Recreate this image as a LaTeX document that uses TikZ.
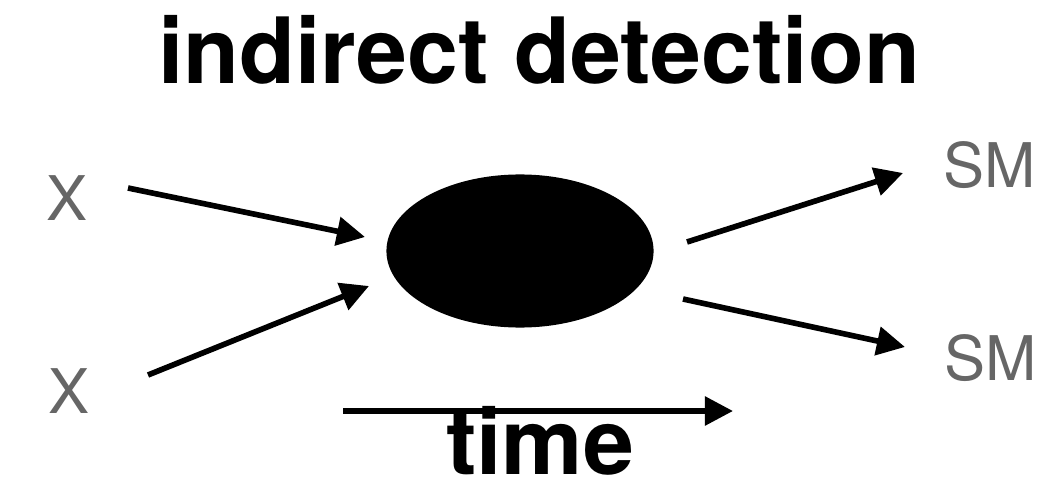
\documentclass[tikz,border=0pt]{standalone}
\usepackage{fontspec}
\setmainfont{TeX Gyre Heros}
\usepackage{xcolor}
\usetikzlibrary{arrows.meta, shapes.geometric, positioning}
\definecolor{labelgray}{RGB}{102,102,102}
\tikzset{
  heading/.style={anchor=base, inner sep=0pt, font=\fontsize{26}{30}\selectfont\bfseries, text=black},
  particle/.style={anchor=base, inner sep=0pt, font=\fontsize{17.5}{20}\selectfont, text=labelgray},
  blob/.style={ellipse, fill=black, minimum width=2.67cm, minimum height=1.53cm},
  flow/.style={-{Triangle[length=8pt, width=8pt]}, line width=1.6pt, color=black}
}

\begin{document}
\begin{tikzpicture}[x=0.01cm, y=-0.01cm]
  \useasboundingbox (0,0) rectangle (1046,488);

  \node[heading] (title) at (539,84) {indirect detection};

  \node[blob] (vertex) at (520,251) {};

  \node[particle] (x1) at (67,220) {X};
  \node[particle] (x2) at (69,413) {X};
  \node[particle] (sm1) at (990,188) {SM};
  \node[particle] (sm2) at (991,380) {SM};

  % arrow ends
  \coordinate (in1s) at (128,188);
  \coordinate (in1e) at (365,237);
  \coordinate (in2s) at (148,375);
  \coordinate (in2e) at (369,286);
  \coordinate (out1s) at (687,242);
  \coordinate (out1e) at (903,173);
  \coordinate (out2s) at (683,299);
  \coordinate (out2e) at (905,347);
  \coordinate (ts) at (343,411);
  \coordinate (te) at (733,411);

  \draw[flow] (in1s) -- (in1e);
  \draw[flow] (in2s) -- (in2e);
  \draw[flow] (out1s) -- (out1e);
  \draw[flow] (out2s) -- (out2e);
  \draw[flow] (ts) -- (te);

  \node[heading] (time) at (540,474) {time};
\end{tikzpicture}
\end{document}
